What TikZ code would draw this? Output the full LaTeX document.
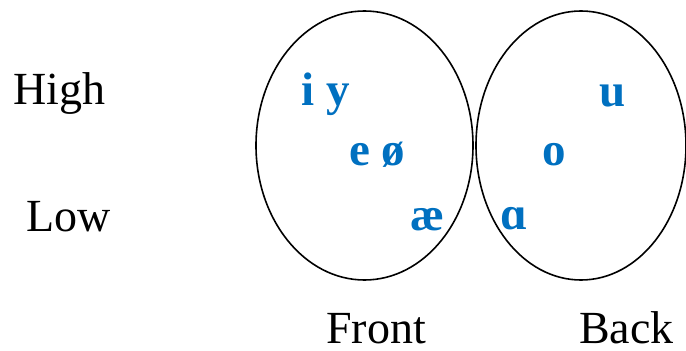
\documentclass[tikz,border=0pt]{standalone}
\usepackage{fontspec}
\setmainfont{Liberation Serif}
\usetikzlibrary{shapes.geometric}
\definecolor{vowelblue}{HTML}{0070C0}
\tikzset{
  region/.style={draw=black, line width=1.6pt, ellipse, inner sep=0pt},
  axislabel/.style={anchor=base west, inner sep=0pt, text depth=0pt, font=\fontsize{46}{50}\selectfont},
  vowel/.style={anchor=base west, inner sep=0pt, text=vowelblue, font=\fontsize{47}{50}\selectfont\bfseries}
}
\begin{document}
\begin{tikzpicture}[x=1pt,y=1pt]
\useasboundingbox (0,0) rectangle (686,351);
\node[region, minimum width=217pt, minimum height=269pt] (front) at (364.5,205.5) {};
\node[region, minimum width=210pt, minimum height=269pt] (back) at (581,205.5) {};
\node[axislabel] (high) at (13,246) {High};
\node[axislabel] (low) at (26,119) {Low};
\node[axislabel] (frontlbl) at (326,8) {Front};
\node[axislabel] (backlbl) at (579,8) {Back};
\node[vowel] (iy) at (301,245) {i y};
\node[vowel] (eo) at (349,185) {e ø};
\node[vowel] (ae) at (410,120) {æ};
\node[vowel] (u) at (599,244) {u};
\node[vowel] (o) at (542,185) {o};
\node[vowel] (a) at (500,121) {ɑ};
\end{tikzpicture}
\end{document}
